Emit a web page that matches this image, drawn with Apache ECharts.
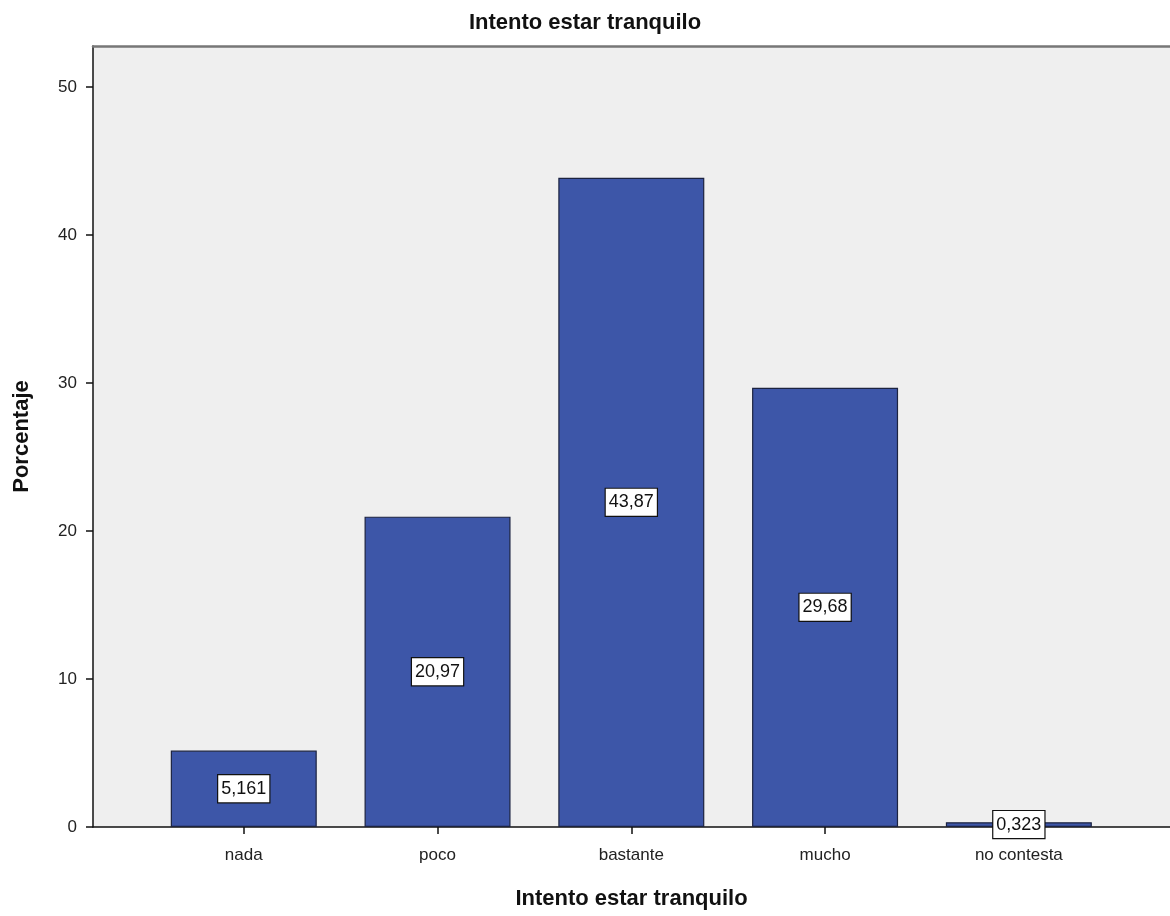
<!DOCTYPE html>
<html><head><meta charset="utf-8">
<script src="https://cdn.jsdelivr.net/npm/echarts@6/dist/echarts.min.js"></script>
<style>html,body{margin:0;padding:0;background:#fff}#c{width:1170px;height:916px}</style>
</head><body><div id="c"></div>
<script>
const categories = ['nada', 'poco', 'bastante', 'mucho', 'no contesta'];
const values = [5.161, 20.97, 43.87, 29.68, 0.323];
const labels = ['5,161', '20,97', '43,87', '29,68', '0,323'];
const yTicks = [0, 10, 20, 30, 40, 50];

const chart = echarts.init(document.getElementById('c'), null, {renderer: 'canvas'});
const font = 'Liberation Sans, Arial, sans-serif';
const catIdx = categories.map((_, i) => i);
chart.setOption({
  animation: false,
  title: {
    text: 'Intento estar tranquilo', left: 'center', top: 7,
    textStyle: {fontFamily: font, fontSize: 22, fontWeight: 'bold', color: '#111'}
  },
  grid: {left: 93, right: -2, top: 46, bottom: 89, show: true, backgroundColor: '#efefef', borderWidth: 0},
  xAxis: [{
    type: 'value', min: -0.778, max: 4.78,
    name: 'Intento estar tranquilo', nameLocation: 'middle', nameGap: 61,
    nameTextStyle: {fontFamily: font, fontSize: 22, fontWeight: 'bold', color: '#111'},
    axisLine: {show: true, onZero: false, lineStyle: {color: '#111', width: 1.5}},
    axisTick: {show: true, length: 7, lineStyle: {color: '#111', width: 1.5}, customValues: catIdx},
    axisLabel: {customValues: catIdx, formatter: v => categories[Math.round(v)] || '', fontFamily: font, fontSize: 17, color: '#222', margin: 20},
    splitLine: {show: false}
  }, {
    type: 'value', position: 'top', min: -0.778, max: 4.78,
    axisLine: {show: true, onZero: false, lineStyle: {color: '#777', width: 2.5}},
    axisTick: {show: false}, axisLabel: {show: false}, splitLine: {show: false}
  }],
  yAxis: {
    type: 'value', min: 0, max: 52.77,
    name: 'Porcentaje', nameLocation: 'middle', nameGap: 60, nameRotate: 90,
    nameTextStyle: {fontFamily: font, fontSize: 22, fontWeight: 'bold', color: '#111'},
    axisLine: {show: true, onZero: false, lineStyle: {color: '#111', width: 1.5}},
    axisTick: {show: true, length: 7, lineStyle: {color: '#111', width: 1.5}, customValues: yTicks},
    axisLabel: {customValues: yTicks, fontFamily: font, fontSize: 17, color: '#222', margin: 16},
    splitLine: {show: false}
  },
  series: [{
    type: 'bar', xAxisIndex: 0, barWidth: 146,
    data: values.map((v, i) => [i, v]),
    itemStyle: {color: '#3d56a8', borderColor: '#1c2340', borderWidth: 1.2},
    label: {
      show: true, position: 'inside',
      formatter: p => labels[p.dataIndex],
      fontFamily: font, fontSize: 18, color: '#111',
      backgroundColor: '#fff', borderColor: '#111', borderWidth: 1.2,
      padding: [5, 3, 4, 3]
    }
  }]
});
</script></body></html>
